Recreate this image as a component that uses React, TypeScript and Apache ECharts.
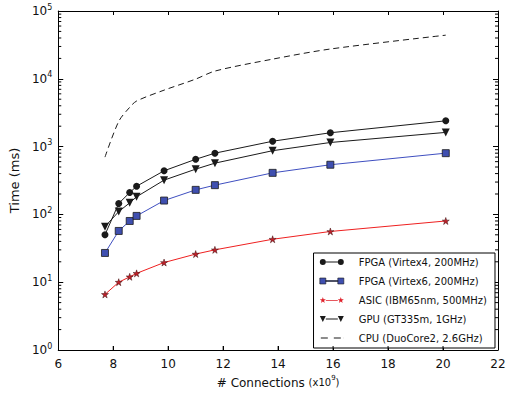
import { useEffect, useRef } from "react";
import * as echarts from "echarts";

const connections = [7.7, 8.2, 8.6, 8.85, 9.85, 11.0, 11.7, 13.8, 15.9, 20.1];
const fpgaV4 = [50, 145, 210, 260, 440, 650, 800, 1200, 1600, 2400];
const fpgaV6 = [27, 57, 80, 95, 160, 230, 270, 410, 540, 800];
const asic = [6.6, 10, 12, 13.5, 19.5, 26, 30, 43, 56, 80];
const gpu = [66, 110, 148, 182, 320, 465, 570, 870, 1150, 1620];
const cpu = [700, 2350, 3800, 4700, 6800, 9900, 13000, 19500, 27500, 44000];

const seriesNames = [
  "FPGA (Virtex4, 200MHz)",
  "FPGA (Virtex6, 200MHz)",
  "ASIC (IBM65nm, 500MHz)",
  "GPU (GT335m, 1GHz)",
  "CPU (DuoCore2, 2.6GHz)",
];

const xTickValues = [8, 10, 12, 14, 16, 18, 20];
const minorMultipliers = [2, 3, 4, 5, 6, 7, 8, 9];
const decades = [1, 10, 100, 1000, 10000];

const FONT = "DejaVu Sans";
const STAR =
  "path://M5,0 L6.12,3.45 L9.76,3.45 L6.82,5.59 L7.94,9.05 L5,6.91 L2.06,9.05 L3.18,5.59 L0.24,3.45 L3.88,3.45 Z";

const iconCircle =
  "path://M0 4 A3 3 0 1 0 6 4 A3 3 0 1 0 0 4 Z M18 4 A3 3 0 1 0 24 4 A3 3 0 1 0 18 4 Z M6 3.5 H18 V4.5 H6 Z";
const iconSquare = "path://M0 1 H6 V7 H0 Z M18 1 H24 V7 H18 Z M6 3.5 H18 V4.5 H6 Z";
const iconStar =
  "path://M3 0.8 L3.76 2.95 L6.04 3.01 L4.24 4.4 L4.88 6.59 L3 5.3 L1.12 6.59 L1.76 4.4 L-0.04 3.01 L2.24 2.95 Z M21 0.8 L21.76 2.95 L24.04 3.01 L22.24 4.4 L22.88 6.59 L21 5.3 L19.12 6.59 L19.76 4.4 L17.96 3.01 L20.24 2.95 Z M6 3.6 H18 V4.4 H6 Z";
const iconTri = "path://M0 1 L6 1 L3 7 Z M18 1 L24 1 L21 7 Z M6 3.5 H18 V4.5 H6 Z";
const iconDash = "path://M1 3.5 H8 V4.5 H1 Z M14 3.5 H21 V4.5 H14 Z M23.9 3.5 H24 V4.5 H23.9 Z M0 1 H0.01 V7 H0 Z";

function pair(xs: number[], ys: number[]) {
  return xs.map((x, i) => [x, ys[i]]);
}

export default function App() {
  const ref = useRef<HTMLDivElement>(null);
  useEffect(() => {
    if (!ref.current) return;
    const chart = echarts.init(ref.current, null, { renderer: "svg" });
    const minorLeft: number[][] = [];
    const minorRight: number[][] = [];
    decades.forEach((d) =>
      minorMultipliers.forEach((m) => {
        minorLeft.push([6, m * d]);
        minorRight.push([22, m * d]);
      })
    );
    const bottomTicks = xTickValues.map((x) => [x, 1]);

    const lineBase = { type: "line" as const, xAxisIndex: 0, yAxisIndex: 0, animation: false };
    const tickSeries = (data: number[][], size: number[], offset: number[]) => ({
      type: "scatter" as const,
      xAxisIndex: 0,
      yAxisIndex: 0,
      silent: true,
      clip: false,
      z: 10,
      data,
      symbol: "rect",
      symbolSize: size,
      symbolOffset: offset,
      itemStyle: { color: "#000", opacity: 1 },
      emphasis: { disabled: true },
    });
    const tick = { show: true, inside: true, lineStyle: { color: "#000", width: 1 } };
    const axLine = { show: true, onZero: false, lineStyle: { color: "#000", width: 1 } };

    chart.setOption({
      animation: false,
      backgroundColor: "#ffffff",
      textStyle: { fontFamily: FONT },
      grid: { left: 52, right: 14, top: 11, bottom: 48, show: false },
      legend: {
        orient: "vertical",
        right: 17,
        bottom: 50,
        backgroundColor: "#ffffff",
        borderColor: "#000000",
        borderWidth: 1,
        borderRadius: 0,
        padding: [4, 8, 5, 6],
        itemWidth: 24,
        itemHeight: 8,
        itemGap: 9,
        textStyle: { fontFamily: FONT, fontSize: 10, color: "#111", padding: [0, 0, 0, 10] },
        data: [
          { name: seriesNames[0], icon: iconCircle, itemStyle: { color: "#1a1a1a", borderWidth: 0 } },
          { name: seriesNames[1], icon: iconSquare, itemStyle: { color: "#3f4fb0", borderColor: "#1a1a1a", borderWidth: 0.6 } },
          { name: seriesNames[2], icon: iconStar, itemStyle: { color: "#e0202a", borderWidth: 0 } },
          { name: seriesNames[3], icon: iconTri, itemStyle: { color: "#1a1a1a", borderWidth: 0 } },
          { name: seriesNames[4], icon: iconDash, itemStyle: { color: "#1a1a1a", borderWidth: 0 } },
        ],
      },
      xAxis: [
        {
          type: "value",
          min: 6,
          max: 22,
          interval: 2,
          position: "bottom",
          name: "{a|# Connections }{b|(x10}{s|9}{b|)}",
          nameLocation: "middle",
          nameGap: 24,
          nameTextStyle: {
            rich: {
              a: { fontFamily: FONT, fontSize: 12, color: "#111", lineHeight: 16 },
              b: { fontFamily: FONT, fontSize: 10, color: "#111", lineHeight: 16 },
              s: { fontFamily: FONT, fontSize: 7, color: "#111", verticalAlign: "top", lineHeight: 10 },
            },
          },
          axisLine: axLine,
          axisTick: { ...tick, length: 4 },
          axisLabel: { fontFamily: FONT, fontSize: 12, color: "#111", margin: 8 },
          splitLine: { show: false },
        },
        {
          type: "value",
          min: 6,
          max: 22,
          interval: 2,
          position: "top",
          axisLine: axLine,
          axisTick: { ...tick, length: 4 },
          axisLabel: { show: false },
          splitLine: { show: false },
        },
      ],
      yAxis: [
        {
          type: "log",
          logBase: 10,
          min: 1,
          max: 100000,
          position: "left",
          name: "Time (ms)",
          nameLocation: "middle",
          nameGap: 32,
          nameTextStyle: { fontFamily: FONT, fontSize: 13, color: "#111" },
          axisLine: axLine,
          axisTick: { ...tick, length: 5 },
          axisLabel: {
            margin: 6,
            formatter: (v: number) => `{b|10}{s|${Math.round(Math.log10(v))}}`,
            rich: {
              b: { fontFamily: FONT, fontSize: 12, color: "#111", lineHeight: 16 },
              s: { fontFamily: FONT, fontSize: 8, color: "#111", verticalAlign: "top", lineHeight: 10 },
            },
          },
          splitLine: { show: false },
        },
        {
          type: "log",
          logBase: 10,
          min: 1,
          max: 100000,
          position: "right",
          axisLine: axLine,
          axisTick: { ...tick, length: 5 },
          axisLabel: { show: false },
          splitLine: { show: false },
        },
      ],
      series: [
        {
          ...lineBase,
          name: seriesNames[0],
          data: pair(connections, fpgaV4),
          symbol: "circle",
          symbolSize: 7,
          lineStyle: { color: "#1a1a1a", width: 1 },
          itemStyle: { color: "#1a1a1a", borderColor: "#1a1a1a", borderWidth: 0 },
          z: 5,
        },
        {
          ...lineBase,
          name: seriesNames[1],
          data: pair(connections, fpgaV6),
          symbol: "rect",
          symbolSize: 7,
          lineStyle: { color: "#3f4fc0", width: 1 },
          itemStyle: { color: "#3f4fb0", borderColor: "#1a1a1a", borderWidth: 0.8 },
          z: 4,
        },
        {
          ...lineBase,
          name: seriesNames[2],
          data: pair(connections, asic),
          symbol: STAR,
          symbolSize: 7,
          lineStyle: { color: "#ee2020", width: 1 },
          itemStyle: { color: "#c0202a", borderColor: "#3a1010", borderWidth: 0.5 },
          z: 4,
        },
        {
          ...lineBase,
          name: seriesNames[3],
          data: pair(connections, gpu),
          symbol: "triangle",
          symbolRotate: 180,
          symbolSize: 8,
          lineStyle: { color: "#1a1a1a", width: 1 },
          itemStyle: { color: "#1a1a1a", borderWidth: 0 },
          z: 4,
        },
        {
          ...lineBase,
          name: seriesNames[4],
          data: pair(connections, cpu),
          symbol: "none",
          smooth: 0.3,
          lineStyle: { color: "#1a1a1a", width: 1, type: [6, 4] },
          itemStyle: { color: "#1a1a1a" },
          z: 3,
        },
        tickSeries(minorLeft, [3, 1], [1.5, 0]),
        tickSeries(minorRight, [3, 1], [-1.5, 0]),
        tickSeries(bottomTicks, [1, 4], [0, -2]),
      ],
    });
    return () => chart.dispose();
  }, []);
  return <div ref={ref} style={{ position: "fixed", left: 0, top: 0, width: 512, height: 398 }} />;
}
